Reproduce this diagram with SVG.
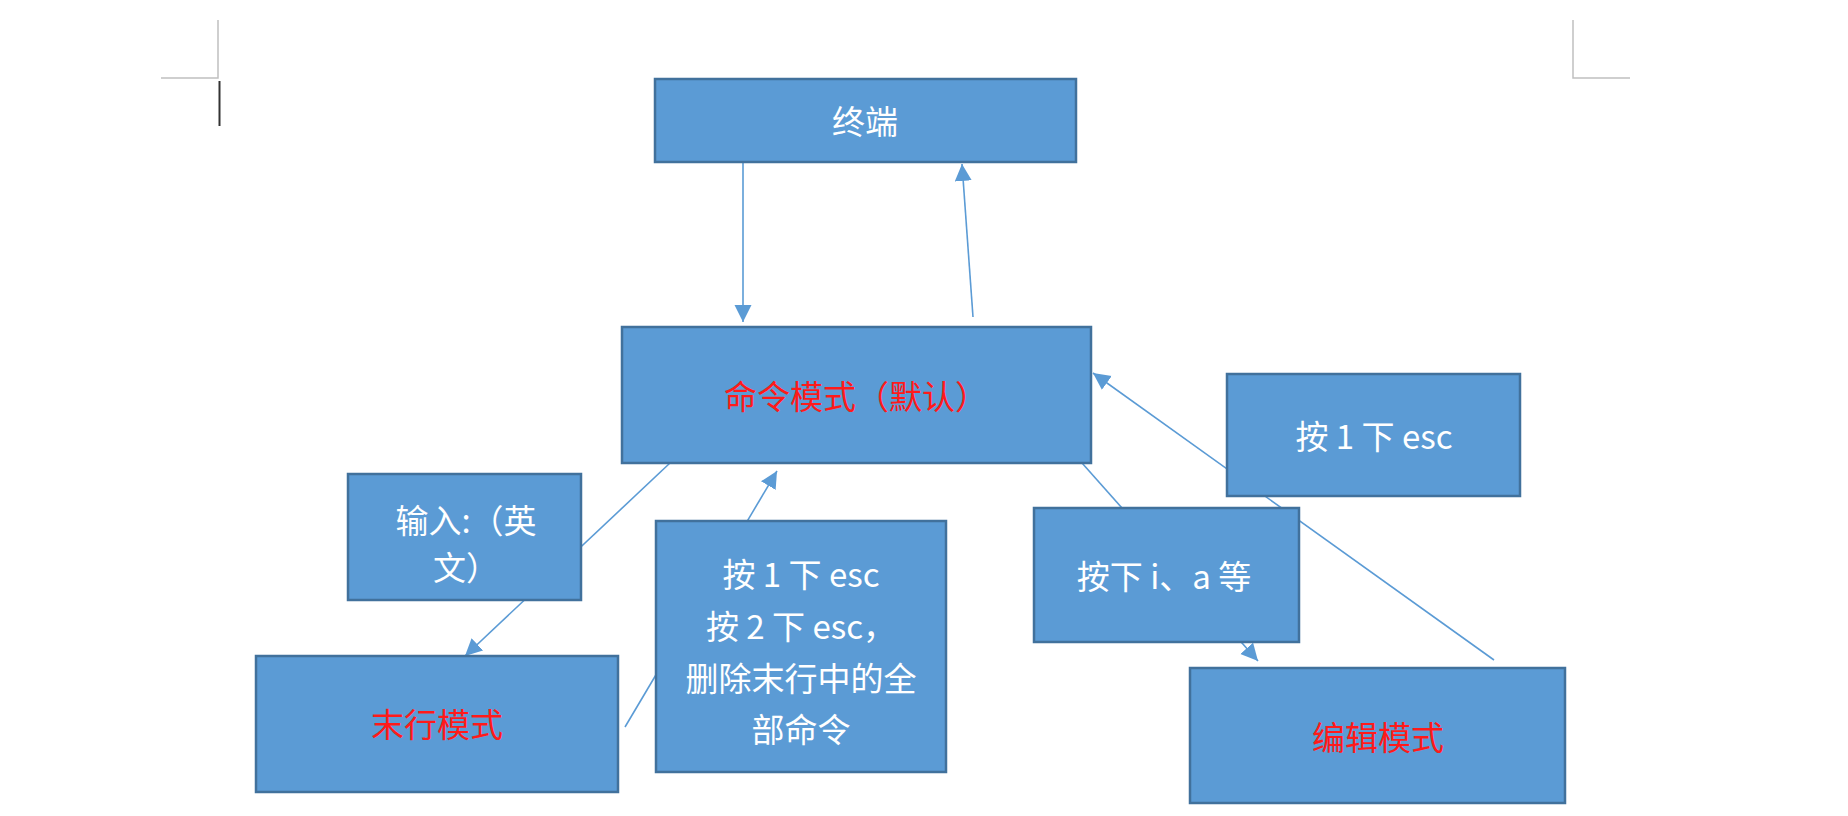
<svg xmlns="http://www.w3.org/2000/svg" width="1848" height="816" viewBox="0 0 1848 816">
<style>
.box{fill:#5B9BD5;stroke:#41719C;stroke-width:2.5}
.conn{stroke:#5B9BD5;stroke-width:1.6;fill:none;marker-end:url(#arr)}
.t{font-family:"Noto Sans CJK SC","Noto Sans",sans-serif;font-size:33px;text-anchor:middle;dominant-baseline:central}
.w{fill:#FFFFFF}
.r{fill:#FF1A1A}
.mark{stroke:#C0C0C0;stroke-width:1.5;fill:none}
</style>
<defs>
<marker id="arr" markerUnits="userSpaceOnUse" markerWidth="18" markerHeight="18" refX="17" refY="8.5" orient="auto">
<path d="M0,0 L17,8.5 L0,17 z" fill="#5B9BD5"/>
</marker>
</defs>
<rect width="1848" height="816" fill="#FFFFFF"/>
<g id="page-marks">
<path class="mark" d="M218,20 V78 H161"/>
<path class="mark" d="M1573,20 V78 H1630"/>
<line x1="219.5" y1="81" x2="219.5" y2="126" stroke="#333333" stroke-width="2"/>
</g>
<g id="connectors">
<line class="conn" x1="743" y1="163" x2="743" y2="322"/>
<line class="conn" x1="973" y1="317" x2="962" y2="164"/>
<line class="conn" x1="670" y1="463" x2="465" y2="656"/>
<line class="conn" x1="625" y1="727" x2="777" y2="471"/>
<line class="conn" x1="1082" y1="463" x2="1258" y2="661"/>
<line class="conn" x1="1494" y1="660" x2="1093" y2="373"/>
</g>
<g id="terminal">
<rect class="box" x="655" y="79" width="421" height="83"/>
<text class="t w" x="865" y="120">终端</text>
</g>
<g id="command-mode">
<rect class="box" x="622" y="327" width="469" height="136"/>
<text class="t r" x="856" y="395">命令模式（默认）</text>
</g>
<g id="esc-once-right">
<rect class="box" x="1227" y="374" width="293" height="122"/>
<text class="t w" x="1374" y="435">按 1 下 esc</text>
</g>
<g id="input-colon">
<rect class="box" x="348" y="474" width="233" height="126"/>
<text class="t w" x="466" y="519">输入:（英</text>
<text class="t w" x="466" y="566">文）</text>
</g>
<g id="esc-middle">
<rect class="box" x="656" y="521" width="290" height="251"/>
<text class="t w" x="801" y="573">按 1 下 esc</text>
<text class="t w" x="801" y="625">按 2 下 esc，</text>
<text class="t w" x="801" y="677">删除末行中的全</text>
<text class="t w" x="801" y="728">部命令</text>
</g>
<g id="press-i-a">
<rect class="box" x="1034" y="508" width="265" height="134"/>
<text class="t w" x="1164" y="575">按下 i、a 等</text>
</g>
<g id="last-line-mode">
<rect class="box" x="256" y="656" width="362" height="136"/>
<text class="t r" x="437" y="723">末行模式</text>
</g>
<g id="edit-mode">
<rect class="box" x="1190" y="668" width="375" height="135"/>
<text class="t r" x="1378" y="736">编辑模式</text>
</g>
</svg>
